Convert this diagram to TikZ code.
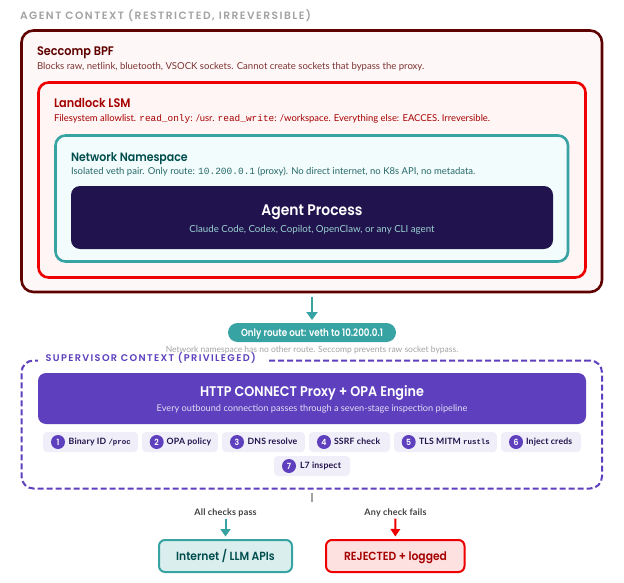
\documentclass[tikz,border=0pt]{standalone}
\usepackage{fontspec}
\setmainfont{Lato}
\setmonofont{Liberation Mono}
\newfontfamily\hdfont[FakeStretch=0.91]{Poppins SemiBold}
\newfontfamily\hdnarrow[FakeStretch=0.85]{Poppins SemiBold}
\newfontfamily\capfont[LetterSpace=14]{Poppins SemiBold}
\newfontfamily\chipfont[LetterSpace=2]{Lato Bold}
\newfontfamily\chipmono{Liberation Mono Bold}
\usetikzlibrary{arrows.meta}
\definecolor{maroon}{HTML}{5F0000}
\definecolor{redx}{HTML}{EE0000}
\definecolor{tealx}{HTML}{37A3A3}
\definecolor{ink}{HTML}{21134D}
\definecolor{purp}{HTML}{5E40BE}
\definecolor{chipbg}{HTML}{F0EEF8}
\definecolor{tealdk}{HTML}{004D4D}
\definecolor{reddk}{HTML}{A60000}
\definecolor{greyx}{HTML}{A3A3A3}
\definecolor{secbg}{HTML}{FDF7F7}
\definecolor{lanbg}{HTML}{FFF5F5}
\definecolor{netbg}{HTML}{F3FCFC}
\newcommand{\bx}[6]{%
  \pgfmathsetmacro{\bw}{#4-#2}\pgfmathsetmacro{\bh}{#5-#3}
  \pgfmathsetmacro{\cx}{(#2+#4)/2}\pgfmathsetmacro{\cy}{(#3+#5)/2}
  \node[panel,minimum width=\bw pt,minimum height=\bh pt,#6] (#1) at (\cx,\cy) {};}
\newcommand{\cm}[1]{{\chipmono\fontsize{7.4}{9}\selectfont #1}}
\tikzset{
  x=1pt,y=-1pt,
  panel/.style={rectangle,inner sep=0pt,outer sep=0pt},
  lbl/.style={inner sep=0pt,outer sep=0pt,anchor=base west},
  lblc/.style={inner sep=0pt,outer sep=0pt,anchor=base},
  ttl/.style={lbl,font=\hdfont\fontsize{12.4}{14}\selectfont},
  sub/.style={lbl,font=\fontsize{9.5}{11}\selectfont},
  chip/.style={fill=chipbg,rounded corners=4pt},
  num/.style={circle,fill=purp,text=white,inner sep=0pt,minimum size=14pt,font=\hdfont\fontsize{8.5}{9}\selectfont},
  chiptxt/.style={lbl,text=ink,font=\chipfont\fontsize{8.7}{11}\selectfont},
  tealarrow/.style={draw=tealx,line width=2pt,-{Triangle[length=8pt,width=11pt]}},
  tealarrowb/.style={draw=tealx,line width=2pt,-{Triangle[length=7.5pt,width=10pt]}},
  redarrow/.style={draw=redx,line width=2pt,-{Triangle[length=7.5pt,width=9.5pt]}},
}
\begin{document}
\begin{tikzpicture}
\useasboundingbox[fill=white] (0,0) rectangle (624,583);
\node[lbl,text=greyx,font=\capfont\fontsize{10.65}{12}\selectfont] (agentcap) at (20,20) {AGENT CONTEXT (RESTRICTED, IRREVERSIBLE)};
\bx{seccomp}{21.5}{30.5}{602}{292}{draw=maroon,fill=secbg,line width=2.6pt,rounded corners=12pt}
\bx{landlock}{38.5}{82.5}{585.5}{277.5}{draw=redx,fill=lanbg,line width=2.6pt,rounded corners=10pt}
\bx{netns}{55.5}{135.5}{568}{261.5}{draw=tealx,fill=netbg,line width=2.6pt,rounded corners=10pt}
\bx{agent}{71}{186}{553}{249}{fill=ink,rounded corners=9pt}
\node[ttl,text=maroon] (t1) at (37,56) {Seccomp BPF};
\node[sub,text=maroon!80!white,font=\fontsize{9.57}{11}\selectfont] (s1) at (37,70) {Blocks raw, netlink, bluetooth, VSOCK sockets. Cannot create sockets that bypass the proxy.};
\node[ttl,text=reddk] (t2) at (54,108) {Landlock LSM};
\node[sub,text=reddk,font=\fontsize{9.43}{11}\selectfont] (s2) at (54,122) {Filesystem allowlist. \texttt{read\_only}: /usr. \texttt{read\_write}: /workspace. Everything else: EACCES. Irreversible.};
\node[ttl,text=tealdk,font=\hdfont\fontsize{12.05}{14}\selectfont] (t3) at (71,161) {Network Namespace};
\node[sub,text=tealdk!85!white,font=\fontsize{9.5}{11}\selectfont] (s3) at (71,175) {Isolated veth pair. Only route: \texttt{10.200.0.1} (proxy). No direct internet, no K8s API, no metadata.};
\node[lblc,text=white,font=\hdfont\fontsize{15.3}{18}\selectfont] (t4) at (312,215) {Agent Process};
\node[lblc,text=tealx!50!white,font=\fontsize{9.7}{11}\selectfont] (s4) at (312,232) {Claude Code, Codex, Copilot, OpenClaw, or any CLI agent};
\bx{pill}{228}{323}{396}{342}{fill=tealx,rounded corners=9.5pt}
\node[lblc,text=white,font=\hdnarrow\fontsize{10.3}{12}\selectfont] (pilltxt) at (312,336) {Only route out: veth to 10.200.0.1};
\draw[tealarrow,shorten <=4.7pt,shorten >=3pt] (seccomp.south -| pill.north) -- (pill.north);
\node[lblc,text=greyx,font=\fontsize{8.5}{10}\selectfont] (note) at (312,352) {Network namespace has no other route. Seccomp prevents raw socket bypass.};
\bx{super}{21.5}{360.5}{602}{488.5}{draw=purp,line width=2pt,dash pattern=on 6pt off 3pt,rounded corners=12pt}
\bx{capbg}{38}{354}{266}{366}{fill=white}
\node[lbl,text=purp,font=\capfont\fontsize{9.7}{11}\selectfont] (supcap) at (45.7,361) {SUPERVISOR CONTEXT (PRIVILEGED)};
\bx{proxy}{38}{373}{586}{424}{fill=purp,rounded corners=8pt}
\node[lblc,text=white,font=\hdfont\fontsize{14}{16}\selectfont] (t5) at (312,396) {HTTP CONNECT Proxy + OPA Engine};
\node[lblc,text=white!82!purp,font=\fontsize{9.2}{11}\selectfont] (s5) at (312,411) {Every outbound connection passes through a seven-stage inspection pipeline};
\bx{c1}{43}{432}{138}{452}{chip}
\bx{c2}{142}{432}{218}{452}{chip}
\bx{c3}{222}{432}{305}{452}{chip}
\bx{c4}{309}{432}{390}{452}{chip}
\bx{c5}{394}{432}{497}{452}{chip}
\bx{c6}{501}{432}{581}{452}{chip}
\bx{c7}{274}{456}{350}{476}{chip}
\node[num] (n1) at (58,442) {1};
\node[num] (n2) at (156.7,442) {2};
\node[num] (n3) at (237,442) {3};
\node[num] (n4) at (324,442) {4};
\node[num] (n5) at (408.7,442) {5};
\node[num] (n6) at (516,442) {6};
\node[num] (n7) at (289,466) {7};
\node[chiptxt] (l1) at (68.7,444) {Binary ID \cm{/proc}};
\node[chiptxt] (l2) at (166.7,444) {OPA policy};
\node[chiptxt] (l3) at (247.7,444) {DNS resolve};
\node[chiptxt] (l4) at (334,444) {SSRF check};
\node[chiptxt] (l5) at (419,444) {TLS MITM \cm{rustls}};
\node[chiptxt] (l6) at (526,444) {Inject creds};
\node[chiptxt] (l7) at (300,468) {L7 inspect};
\coordinate (stubend) at (312,502);
\draw[draw=greyx,line width=2pt,shorten <=4pt] (super.south -| stubend) -- (stubend);
\node[lblc,text=black!75,font=\chipfont\fontsize{9}{11}\selectfont] (pass) at (225.5,515) {All checks pass};
\node[lblc,text=black!75,font=\chipfont\fontsize{9}{11}\selectfont] (fail) at (395.5,515) {Any check fails};
\bx{inet}{159}{540}{292}{572}{draw=tealx,fill=tealx!18!white,line width=2pt,rounded corners=6pt}
\bx{rej}{326}{540}{464.5}{572}{draw=redx,fill=redx!12!white,line width=2pt,rounded corners=6pt}
\node[lblc,text=tealdk,font=\hdfont\fontsize{11.8}{13}\selectfont] (inettxt) at (225.5,560) {Internet / LLM APIs};
\node[lblc,text=reddk,font=\hdfont\fontsize{11.8}{13}\selectfont] (rejtxt) at (395.5,560) {REJECTED + logged};
\draw[tealarrowb,shorten <=2pt,shorten >=3.5pt] (pass.south) -- (inet.north);
\draw[redarrow,shorten <=2pt,shorten >=3.5pt] (fail.south) -- (rej.north);
\end{tikzpicture}
\end{document}
